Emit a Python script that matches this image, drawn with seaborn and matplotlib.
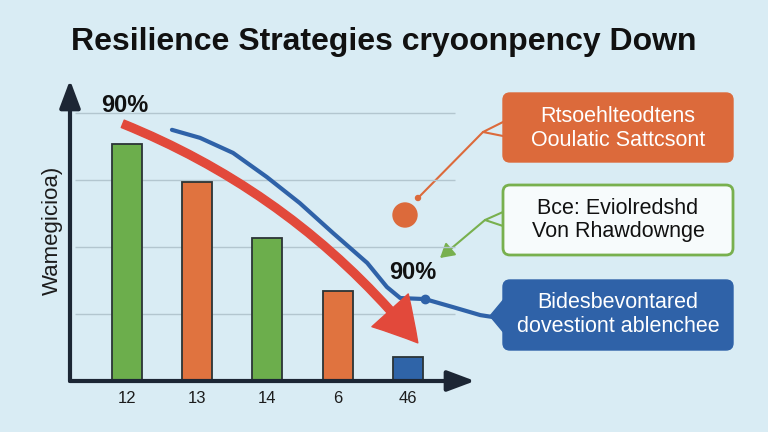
import matplotlib
matplotlib.use("Agg")
import matplotlib.pyplot as plt
import seaborn as sns
import pandas as pd
from matplotlib.patches import FancyBboxPatch, Circle, Polygon

# ---------------- data ----------------
categories = ["12", "13", "14", "6", "46"]
values = [70.9, 59.5, 42.8, 26.9, 7.2]
bar_colors = ["#6cae4c", "#e0733f", "#6cae4c", "#e0733f", "#2f64a8"]
grid_values = [20, 40, 60, 80]

trend_x = [0.64, 1.04, 1.51, 1.99, 2.46, 2.93, 3.42, 3.70, 3.89, 4.24, 4.64, 5.03, 5.31]
trend_y = [75.1, 72.7, 68.2, 61.0, 53.2, 44.3, 35.3, 28.1, 24.8, 24.5, 22.1, 19.7, 18.8]
trend_dot_x = [4.24]
trend_dot_y = [24.5]

red_start = (-0.06, 76.9)
red_end = (4.14, 11.4)

title = "Resilience Strategies cryoonpency Down"
ylabel = "Wamegicioa)"
pct_labels = ["90%", "90%"]
box_texts = [
    "Rtsoehlteodtens\nOoulatic Sattcsont",
    "Bce: Eviolredshd\nVon Rhawdownge",
    "Bidesbevontared\ndovestiont ablenchee",
]

# ---------------- style ----------------
bg = "#d9ecf4"
ink = "#1c2634"
red = "#e2493b"
blue = "#2f62a8"
orange = "#dc6a3b"
green = "#78b04e"

sns.set_theme(style="white")
plt.rcParams["font.family"] = ["Liberation Sans", "DejaVu Sans"]

fig = plt.figure(figsize=(7.68, 4.32), dpi=100)
fig.patch.set_facecolor(bg)

# overlay axes in pixel coordinates (for callout boxes)
ov = fig.add_axes([0, 0, 1, 1], zorder=0)
ov.set_xlim(0, 768)
ov.set_ylim(432, 0)
ov.axis("off")
ov.set_facecolor("none")

ax = fig.add_axes([70 / 768, 51 / 432, 405 / 768, 301 / 432], zorder=2)
ax.set_facecolor("none")

df = pd.DataFrame({"cat": categories, "val": values})
sns.barplot(data=df, x="cat", y="val", hue="cat", palette=bar_colors,
            legend=False, ax=ax, width=0.427, edgecolor="#2b3436",
            linewidth=1.3, saturation=1, zorder=3)

ax.set_xlim(-0.811, 4.954)
ax.set_ylim(0, 90)
ax.hlines(grid_values, -0.74, 4.67, color="#b3c6cf", lw=1.0, zorder=1)
for s in ax.spines.values():
    s.set_visible(False)
ax.set_yticks([])
ax.tick_params(axis="x", length=0, pad=7, labelsize=12, labelcolor="#1c1c1c")
ax.set_xlabel("")
ax.set_ylabel(ylabel, fontsize=16, color="#1c1c1c", labelpad=5)

# axis arrows
arrow_style = "-|>,head_length=1.2,head_width=0.45"
ax.annotate("", xy=(0, 1), xytext=(0, 0), xycoords="axes fraction",
            arrowprops=dict(arrowstyle=arrow_style, lw=3, color=ink,
                            shrinkA=0, shrinkB=0, mutation_scale=14),
            annotation_clip=False)
ax.annotate("", xy=(1, 0), xytext=(0, 0), xycoords="axes fraction",
            arrowprops=dict(arrowstyle=arrow_style, lw=3, color=ink,
                            shrinkA=0, shrinkB=0, mutation_scale=14),
            annotation_clip=False)

# red trend arrow
ax.annotate("", xy=red_end, xytext=red_start,
            arrowprops=dict(arrowstyle="simple,head_length=1.4,head_width=1.6,tail_width=0.26",
                            connectionstyle="arc3,rad=-0.13", color=red,
                            shrinkA=0, shrinkB=0, mutation_scale=22),
            annotation_clip=False, zorder=5)

# blue trend line
ax.plot(trend_x, trend_y, color=blue, lw=3, clip_on=False, zorder=4,
        solid_capstyle="round")
ax.plot(trend_dot_x, trend_dot_y, "o", color=blue, ms=6, clip_on=False, zorder=4)

# percentage labels
ax.text(-0.03, 82.5, pct_labels[0], ha="center", va="center", fontsize=17,
        fontweight="bold", color="#111111")
ax.text(4.07, 32.3, pct_labels[1], ha="center", va="center", fontsize=17,
        fontweight="bold", color="#111111", zorder=6)

# title
fig.text(0.5, 1 - 42 / 432, title, ha="center", va="center", fontsize=23,
         fontweight="bold", color="#111111")

# ---------------- callouts (pixel coords) ----------------
def box(x0, y0, x1, y1, fc, ec, lw):
    p = FancyBboxPatch((x0, y0), x1 - x0, y1 - y0,
                       boxstyle="round,pad=0,rounding_size=7",
                       fc=fc, ec=ec, lw=lw, zorder=3)
    ov.add_patch(p)

fs_box = 15.5

# orange
box(503, 93, 733, 162, orange, orange, 1)
ov.plot([503, 483, 503], [122, 132, 136], color=orange, lw=1.5, zorder=2)
ov.plot([483, 418], [132, 198], color=orange, lw=1.5, zorder=2)
ov.add_patch(Circle((418, 198), 2.5, color=orange, zorder=2))
ov.add_patch(Circle((405, 215), 12, color=orange, zorder=2))
ov.text(618, 117, box_texts[0].split("\n")[0], ha="center", va="center",
        fontsize=fs_box, color="white", zorder=4)
ov.text(618, 141, box_texts[0].split("\n")[1], ha="center", va="center",
        fontsize=fs_box, color="white", zorder=4)

# green
box(503, 185, 733, 255, "#f7fbfc", green, 2)
ov.plot([503, 485, 503], [212, 220, 226], color=green, lw=1.5, zorder=2)
ov.annotate("", xy=(440, 258), xytext=(485, 220),
            arrowprops=dict(arrowstyle="-|>,head_length=0.6,head_width=0.35",
                            color=green, lw=1.5, shrinkA=0, shrinkB=0,
                            mutation_scale=14))
ov.text(618, 208, box_texts[1].split("\n")[0], ha="center", va="center",
        fontsize=fs_box, color="#111111", zorder=4)
ov.text(618, 232, box_texts[1].split("\n")[1], ha="center", va="center",
        fontsize=fs_box, color="#111111", zorder=4)

# blue
box(503, 280, 733, 350, blue, blue, 1)
ov.add_patch(Polygon([[505, 298], [490, 316], [505, 334]], closed=True,
                     color=blue, zorder=2))
ov.text(618, 303, box_texts[2].split("\n")[0], ha="center", va="center",
        fontsize=fs_box, color="white", zorder=4)
ov.text(618, 327, box_texts[2].split("\n")[1], ha="center", va="center",
        fontsize=fs_box, color="white", zorder=4)

fig.savefig("out.png", dpi=100, facecolor=bg)
